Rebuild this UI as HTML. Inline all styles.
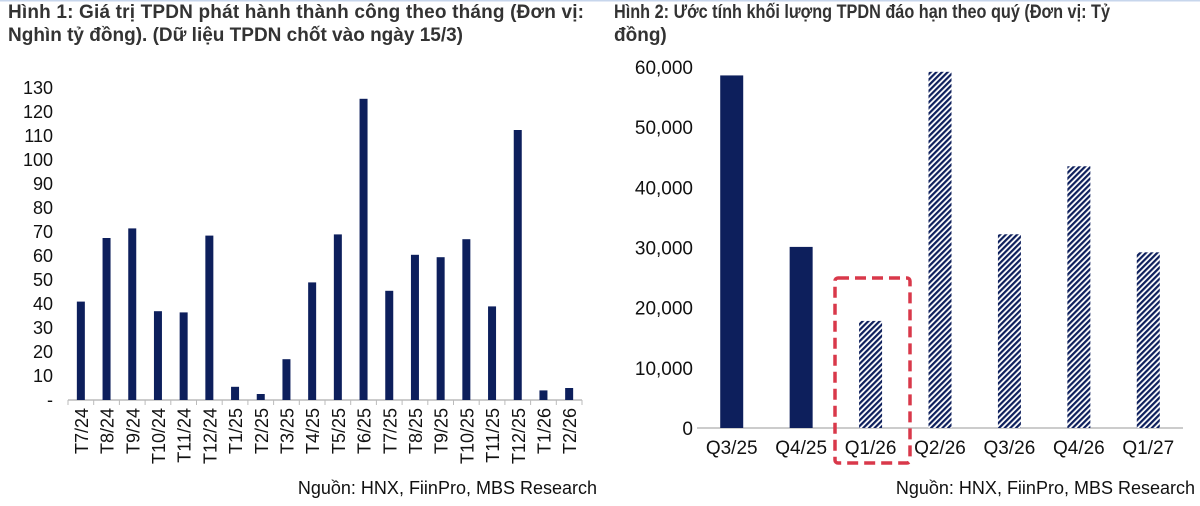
<!DOCTYPE html>
<html><head><meta charset="utf-8"><style>
body{margin:0;width:1200px;height:501px;background:#fff;overflow:hidden;font-family:"Liberation Sans",Arial,sans-serif;}
svg text{font-family:"Liberation Sans",Arial,sans-serif;}
</style></head><body>
<svg id="c" width="1200" height="501">
<defs>
<pattern id="hatch" width="4" height="4" patternUnits="userSpaceOnUse" patternTransform="rotate(45)">
<rect width="4" height="4" fill="#fff"/><rect width="2.2" height="4" fill="#0d1f5c"/>
</pattern>
</defs>
<rect x="0" y="0" width="1200" height="1.5" fill="#c7d6ec"/>
<text x="8" y="18" font-size="19" font-weight="bold" fill="#333" textLength="576">Hình 1: Giá trị TPDN phát hành thành công theo tháng (Đơn vị:</text>
<text x="8" y="41" font-size="19" font-weight="bold" fill="#333">Nghìn tỷ đồng). (Dữ liệu TPDN chốt vào ngày 15/3)</text>
<text x="614" y="18" font-size="19" font-weight="bold" fill="#333" textLength="496" lengthAdjust="spacingAndGlyphs">Hình 2: Ước tính khối lượng TPDN đáo hạn theo quý (Đơn vị: Tỷ</text>
<text x="614" y="41" font-size="19" font-weight="bold" fill="#333">đồng)</text>
<text x="597" y="494" font-size="18" text-anchor="end" fill="#111">Nguồn: HNX, FiinPro, MBS Research</text>
<text x="1195" y="494" font-size="18" text-anchor="end" fill="#111">Nguồn: HNX, FiinPro, MBS Research</text>
<g id="g1"></g><g id="g2"></g>
<rect x="835" y="278" width="75" height="185" rx="3" fill="none" stroke="#d9384a" stroke-width="3.5" stroke-dasharray="11,6"/>
</svg>
<script>
const months=["T7/24","T8/24","T9/24","T10/24","T11/24","T12/24","T1/25","T2/25","T3/25","T4/25","T5/25","T6/25","T7/25","T8/25","T9/25","T10/25","T11/25","T12/25","T1/26","T2/26"];
const issuance=[41,67.5,71.5,37,36.5,68.5,5.5,2.5,17,49,69,125.5,45.5,60.5,59.5,67,39,112.5,4,5];
const ticks1=[0,10,20,30,40,50,60,70,80,90,100,110,120,130];
const quarters=["Q3/25","Q4/25","Q1/26","Q2/26","Q3/26","Q4/26","Q1/27"];
const maturity=[58600,30100,17800,59200,32200,43500,29200];
const isEstimate=[false,false,true,true,true,true,true];
const ticks2=[0,10000,20000,30000,40000,50000,60000];
const NS="http://www.w3.org/2000/svg";
function mk(p,tag,a){const e=document.createElementNS(NS,tag);for(const k in a)e.setAttribute(k,a[k]);p.appendChild(e);return e;}
// chart 1
const g1=document.getElementById('g1');
const x0=68,x1=582,yb=400,yt=88;
const y1=v=>yb-(v/130)*(yb-yt);
const bw1=(x1-x0)/months.length;
ticks1.forEach(t=>{const e=mk(g1,'text',{x:53,y:y1(t)+6,'font-size':18,'text-anchor':'end',fill:'#111'});e.textContent=t===0?'-':t;

});
const ax=mk(g1,'line',{x1:x0,x2:x1,y1:yb,y2:yb,stroke:'#bbb','stroke-width':1.5});


months.forEach((m,i)=>{const cx=x0+bw1*(i+0.5);
const tk=mk(g1,'line',{x1:x0+bw1*i,x2:x0+bw1*i,y1:yb,y2:yb+5,stroke:'#bbb'});


const r=mk(g1,'rect',{x:cx-4,y:y1(issuance[i]),width:8,height:yb-y1(issuance[i]),fill:'#0d1f5c'});


const t=mk(g1,'text',{x:0,y:0,'font-size':18,'text-anchor':'end',fill:'#111',transform:`translate(${cx+7},${yb+8}) rotate(-90)`});t.textContent=m;

});
const tkl=mk(g1,'line',{x1:x1,x2:x1,y1:yb,y2:yb+5,stroke:'#bbb'});


// chart 2
const g2=document.getElementById('g2');
const a0=697,a1=1183,b0=428,bt=67;
const y2=v=>b0-(v/60000)*(b0-bt);
const bw2=(a1-a0)/quarters.length;
ticks2.forEach(t=>{const e=mk(g2,'text',{x:693,y:y2(t)+7,'font-size':19,'text-anchor':'end',fill:'#111'});e.textContent=t.toLocaleString('en-US');

});
const ax2=mk(g2,'line',{x1:a0,x2:a1,y1:b0,y2:b0,stroke:'#bbb','stroke-width':1.5});


quarters.forEach((q,i)=>{const cx=a0+bw2*(i+0.5);
const r=mk(g2,'rect',{x:cx-11.5,y:y2(maturity[i]),width:23,height:b0-y2(maturity[i]),fill:isEstimate[i]?'url(#hatch)':'#0d1f5c'});


const t=mk(g2,'text',{x:cx,y:b0+26,'font-size':19,'text-anchor':'middle',fill:'#111'});t.textContent=q;

});
</script>
</body></html>
